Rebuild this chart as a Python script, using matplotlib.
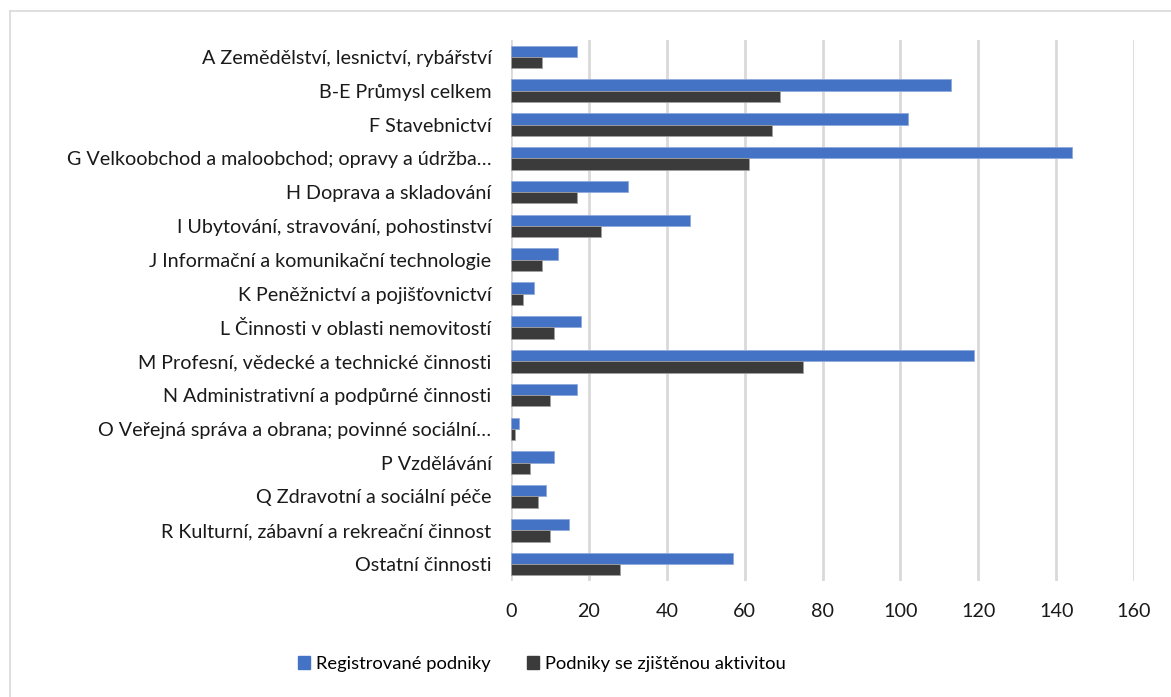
import matplotlib
matplotlib.use("Agg")
import matplotlib.pyplot as plt
from matplotlib.lines import Line2D
from matplotlib.patches import Patch
import numpy as np

categories = [
    "A Zemědělství, lesnictví, rybářství",
    "B-E Průmysl celkem",
    "F Stavebnictví",
    "G Velkoobchod a maloobchod; opravy a údržba…",
    "H Doprava a skladování",
    "I Ubytování, stravování, pohostinství",
    "J Informační a komunikační technologie",
    "K Peněžnictví a pojišťovnictví",
    "L Činnosti v oblasti nemovitostí",
    "M Profesní, vědecké a technické činnosti",
    "N Administrativní a podpůrné činnosti",
    "O Veřejná správa a obrana; povinné sociální…",
    "P Vzdělávání",
    "Q Zdravotní a sociální péče",
    "R Kulturní, zábavní a rekreační činnost",
    "Ostatní činnosti",
]
registrovane = [17, 113, 102, 144, 30, 46, 12, 6, 18, 119, 17, 2, 11, 9, 15, 57]
aktivni = [8, 69, 67, 61, 17, 23, 8, 3, 11, 75, 10, 1, 5, 7, 10, 28]
series_names = ["Registrované podniky", "Podniky se zjištěnou aktivitou"]
xticks = [0, 20, 40, 60, 80, 100, 120, 140, 160]

plt.rcParams['font.family'] = ['Lato', 'DejaVu Sans']

W, H = 1171, 697
fig = plt.figure(figsize=(W / 100, H / 100), dpi=100)
ax = fig.add_axes([511 / W, 1 - 581 / H, (1134 - 511) / W, (581 - 40) / H])

blue = "#4472C4"
dark = "#3B3B3B"
n = len(categories)
y = np.arange(n)
h = 0.335
ax.barh(y - h / 2, registrovane, height=h, color=blue, edgecolor="#8FAADC", linewidth=0.6, zorder=3)
ax.barh(y + h / 2, aktivni, height=h, color=dark, edgecolor="#A0A0A0", linewidth=0.6, zorder=3)

ax.set_ylim(n - 0.5, -0.5)
ax.set_xlim(0, 160)
ax.set_yticks(y)
ax.set_yticklabels(categories, fontsize=14.2, color="#1a1a1a")
ax.set_xticks(xticks)
ax.set_xticklabels([str(v) for v in xticks], fontsize=14.2, color="#1a1a1a")
ax.tick_params(axis="y", length=0, pad=14)
ax.tick_params(axis="x", length=0, pad=16)
for s in ax.spines.values():
    s.set_visible(False)
ax.grid(axis="x", color="#D9D9D9", linewidth=2, zorder=0)
ax.set_axisbelow(True)

handles = [Patch(facecolor=blue, edgecolor=blue), Patch(facecolor=dark, edgecolor=dark)]
fig.legend(handles, series_names, loc="center", bbox_to_anchor=(542 / W, 1 - 664 / H),
           ncol=2, frameon=False, fontsize=13.2, handlelength=0.65, handleheight=0.65,
           handletextpad=0.3, columnspacing=2.0)

# outer chart border (top and left visible)
fig.add_artist(Line2D([10 / W, 1], [1 - 11 / H, 1 - 11 / H], transform=fig.transFigure, color="#D9D9D9", linewidth=1.2))
fig.add_artist(Line2D([10 / W, 10 / W], [0, 1 - 11 / H], transform=fig.transFigure, color="#D9D9D9", linewidth=1.2))

fig.savefig("out.png", dpi=100, facecolor="white")
